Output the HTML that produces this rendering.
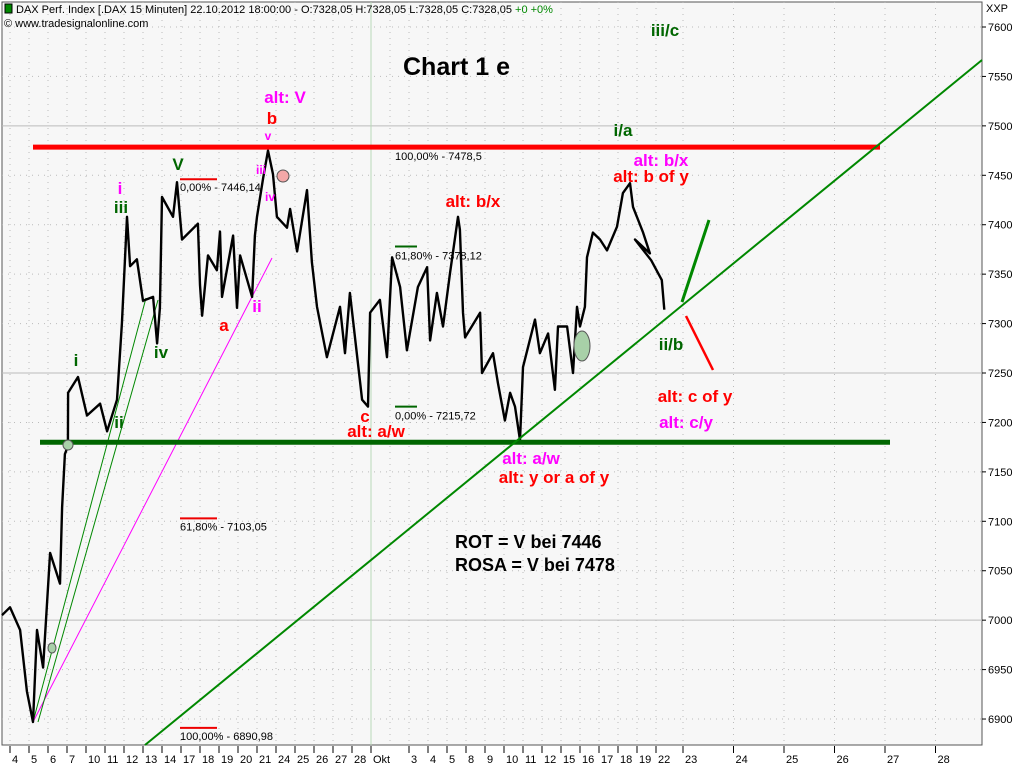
<!DOCTYPE html>
<html><head><meta charset="utf-8"><style>
body{margin:0;background:#fff;width:1024px;height:768px;overflow:hidden;font-family:"Liberation Sans",sans-serif}
svg{display:block}
.lb{font-family:"Liberation Sans",sans-serif;font-weight:bold;font-size:17px}
.ax{font-family:"Liberation Sans",sans-serif;font-size:11px;fill:#000}
</style></head><body>
<svg id="c" width="1024" height="768" xmlns="http://www.w3.org/2000/svg">
<rect x="2" y="2" width="980" height="743" fill="#f7f7f7" stroke="#555" stroke-width="1"/>
<g id="grid"></g>
<g id="ann"></g>
<g id="price"></g>
<g id="over"></g>
<g id="xt"></g>
<g id="yt"></g>
<text x="16" y="13" class="ax">DAX Perf. Index [.DAX  15 Minuten] 22.10.2012 18:00:00 - O:7328,05 H:7328,05 L:7328,05 C:7328,05 <tspan fill="#080">+0 +0%</tspan></text>
<rect x="5" y="4" width="7" height="9" fill="#080" stroke="#000"/>
<text x="4" y="27" class="ax">© www.tradesignalonline.com</text>
<text x="986" y="12" class="ax">XXP</text>
<text x="403" y="75" style="font-weight:bold;font-size:25px" font-family="Liberation Sans">Chart 1 e</text>
<g class="lb" text-anchor="middle">
<text x="285" y="103" fill="#f0f">alt: V</text>
<text x="272" y="124" fill="#f00">b</text>
<text x="268" y="140" fill="#f0f" font-size="12">v</text>
<text x="178" y="170" fill="#060">V</text>
<text x="120" y="194" fill="#f0f">i</text>
<text x="121" y="213" fill="#060">iii</text>
<text x="261" y="174" fill="#f0f" font-size="12">iii</text>
<text x="270" y="201" fill="#f0f" font-size="12">iv</text>
<text x="224" y="331" fill="#f00">a</text>
<text x="257" y="312" fill="#f0f">ii</text>
<text x="161" y="358" fill="#060">iv</text>
<text x="76" y="366" fill="#060">i</text>
<text x="119" y="428" fill="#060">ii</text>
<text x="365" y="422" fill="#f00">c</text>
<text x="376" y="437" fill="#f00">alt: a/w</text>
<text x="473" y="207" fill="#f00">alt: b/x</text>
<text x="665" y="36" fill="#060">iii/c</text>
<text x="623" y="136" fill="#060">i/a</text>
<text x="661" y="166" fill="#f0f">alt: b/x</text>
<text x="651" y="182" fill="#f00">alt: b of y</text>
<text x="671" y="350" fill="#060">ii/b</text>
<text x="695" y="402" fill="#f00">alt: c of y</text>
<text x="686" y="428" fill="#f0f">alt: c/y</text>
<text x="531" y="464" fill="#f0f">alt: a/w</text>
<text x="554" y="483" fill="#f00">alt: y or a of y</text>
</g>
<text x="455" y="548" fill="#000" style="font-weight:bold;font-size:18px">ROT = V bei 7446</text>
<text x="455" y="571" fill="#000" style="font-weight:bold;font-size:18px">ROSA = V bei 7478</text>
</svg>
<script>
const dayLabels=["4","5","6","7","10","11","12","13","14","17","18","19","20","21","24","25","26","27","28","Okt","","3","4","5","8","9","10","11","12","15","16","17","18","19","22"];
const futureLabels=["23","24","25","26","27","28"];
const yTicks=[7600,7550,7500,7450,7400,7350,7300,7250,7200,7150,7100,7050,7000,6950,6900];
const majorY=[7500,7250,7000];
const priceDay=[-0.42,0,0.53,0.89,1.21,1.42,1.74,2.11,2.63,2.74,2.89,3.05,3.06,3.58,4.05,4.74,5.11,5.63,5.89,6.16,6.32,6.68,7.0,7.53,7.74,7.89,8.0,8.58,8.79,9.05,9.89,10.0,10.11,10.42,10.89,11.05,11.16,11.74,11.95,12.11,12.74,12.89,13.0,13.32,13.58,13.84,14.05,14.58,14.74,15.11,15.63,15.89,16.16,16.68,17.37,17.63,17.89,18.53,18.84,18.95,19.47,19.84,20.11,20.53,20.89,21.47,21.95,22.11,22.47,22.79,23.16,23.58,23.68,23.84,23.95,24.74,24.84,25.42,25.68,26.05,26.32,26.58,26.84,27.0,27.63,27.89,28.32,28.68,28.84,29.32,29.63,29.84,30.0,30.26,30.37,30.68,31.05,31.42,31.95,32.26,32.63,32.79,33.32,33.68,34.05,34.37,34.58,34.63];
const priceVal=[7005,7013,6990,6928,6897,6990,6952,7068,7037,7114,7168,7176,7230,7246,7207,7219,7191,7223,7300,7408,7358,7365,7323,7327,7280,7316,7428,7408,7443,7385,7401,7339,7308,7369,7354,7393,7327,7389,7316,7369,7327,7389,7408,7447,7475,7451,7408,7397,7416,7373,7435,7362,7317,7266,7317,7270,7331,7223,7216,7311,7324,7266,7367,7337,7273,7337,7357,7283,7331,7297,7351,7408,7395,7311,7286,7311,7250,7270,7240,7202,7230,7216,7182,7256,7304,7270,7290,7233,7297,7297,7250,7317,7297,7317,7367,7392,7385,7374,7398,7432,7442,7418,7392,7371,7385,7364,7344,7314];
const NS="http://www.w3.org/2000/svg";
function Xd(d){ if(d<=34) return 10+19*d; return 683+(d-35)*50.5; }
function Y(p){return 27+(7600-p)*0.9886;}
function el(t,a,parent){const e=document.createElementNS(NS,t);for(const k in a)e.setAttribute(k,a[k]);parent.appendChild(e);return e;}
const grid=document.getElementById('grid'),xt=document.getElementById('xt'),yt=document.getElementById('yt');
yTicks.forEach(v=>{
 const major=majorY.includes(v);
 const l=el('line',{x1:2,x2:982,y1:Y(v),y2:Y(v),stroke:'#bbb','stroke-dasharray':major?'':'1,5'},grid);
 
 
 const t=el('text',{x:988,y:Y(v)+4,class:'ax'},yt);t.textContent=v;
 
 
 el('line',{x1:982,x2:986,y1:Y(v),y2:Y(v),stroke:'#000'},yt);
});
const allX=[];
dayLabels.forEach((s,i)=>allX.push([Xd(i),s]));
futureLabels.forEach((s,i)=>allX.push([Xd(35+i),s]));
allX.forEach(([x,s])=>{
 const l=el('line',{x1:x,x2:x,y1:2,y2:745,stroke:s==='Okt'?'#b8d8b8':'#bbb','stroke-dasharray':s==='Okt'?'':'1,5'},grid);
 
 
 if(s==='')return;
 el('line',{x1:x,x2:x,y1:746,y2:753,stroke:'#000'},xt);
 const t=el('text',{x:x+2,y:763,class:'ax'},xt);t.textContent=s;
 
 
});
const ann=document.getElementById('ann');
function L(x1,y1,x2,y2,c,w,n){const l=el('line',{x1,y1,x2,y2,stroke:c,'stroke-width':w},ann);return l;}
L(33,722,272,258,'#f0f',1,'pink-trendline');
L(33,722,146,298,'#080',1,'thin-trendline-1');
L(38,722,158,300,'#080',1,'thin-trendline-2');
const fibs=[[7446,'0,00% - 7446,14'],[7103,'61,80% - 7103,05'],[6891,'100,00% - 6890,98']];
fibs.forEach(([v,s])=>{L(180,Y(v),217,Y(v),'#e00',2,'fib-marker');const t=el('text',{x:180,y:Y(v)+12,class:'ax',fill:'#e00'},ann);t.textContent=s;
 
 });
const gfibs=[[7478.5,'100,00% - 7478,5'],[7378,'61,80% - 7378,12'],[7216,'0,00% - 7215,72']];
gfibs.forEach(([v,s])=>{L(395,Y(v),417,Y(v),'#060',2,'fib-marker-green');const t=el('text',{x:395,y:Y(v)+13,class:'ax',fill:'#060'},ann);t.textContent=s;
 
 });
const pr=document.getElementById('price');
const pts=priceDay.map((d,i)=>Xd(d).toFixed(1)+','+Y(priceVal[i]).toFixed(1)).join(' ');
const pl=el('polyline',{points:pts,fill:'none',stroke:'#000','stroke-width':2.4,'stroke-linejoin':'round'},pr);


const ov=document.getElementById('over');
function O(x1,y1,x2,y2,c,w,n){const l=el('line',{x1,y1,x2,y2,stroke:c,'stroke-width':w},ov);}
O(33,Y(7478.5),880,Y(7478.5),'#f00',5,'resistance-line');
O(40,Y(7180),890,Y(7180),'#060',5,'support-line');
O(145,745,982,60,'#080',2,'main-trendline');
O(682,302,709,220,'#080',3,'projection-up');
O(686,316,713,370,'#f00',2.5,'projection-down');
function C(cx,cy,rx,ry,f,n){const e=el('ellipse',{cx,cy,rx,ry,fill:f,stroke:'#555','stroke-width':1},ov);}
C(283,176,6,6,'#f4a8a8','pink-dot');
C(68,445,5,5,'#a8d0a8','green-dot-1');
C(52,648,4,5,'#a8d0a8','green-dot-2');
C(582,346,8,15,'#a8d0a8','green-ellipse');
</script>
</body></html>
